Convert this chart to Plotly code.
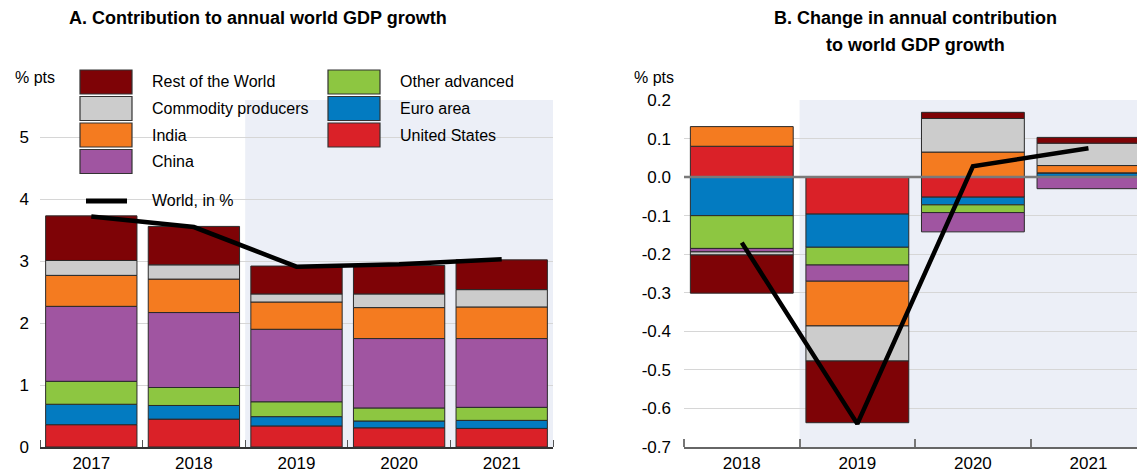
import plotly.graph_objects as go

# ---------------- data ----------------
years_a = ["2017", "2018", "2019", "2020", "2021"]
years_b = ["2018", "2019", "2020", "2021"]

series_names = ["United States", "Euro area", "Other advanced", "China",
                "India", "Commodity producers", "Rest of the World"]
series_colors = ["#DA2128", "#037BC1", "#8DC641", "#A055A1",
                 "#F47B20", "#CCCCCC", "#7E0306"]

# Panel A: contribution to annual world GDP growth (% pts)
us_a = [0.36, 0.45, 0.34, 0.31, 0.30]
euro_a = [0.33, 0.22, 0.15, 0.11, 0.13]
othadv_a = [0.37, 0.29, 0.24, 0.21, 0.21]
china_a = [1.21, 1.21, 1.17, 1.12, 1.11]
india_a = [0.50, 0.54, 0.44, 0.50, 0.51]
commod_a = [0.24, 0.23, 0.13, 0.22, 0.28]
row_a = [0.72, 0.62, 0.45, 0.46, 0.48]
world_a = [3.72, 3.55, 2.91, 2.95, 3.03]

# Panel B: change in annual contribution (% pts)
us_b = [0.080, -0.096, -0.052, 0.002]
euro_b = [-0.100, -0.086, -0.020, 0.009]
othadv_b = [-0.085, -0.046, -0.020, 0.0]
china_b = [-0.009, -0.042, -0.050, -0.030]
india_b = [0.051, -0.116, 0.065, 0.019]
commod_b = [-0.008, -0.091, 0.087, 0.058]
row_b = [-0.099, -0.160, 0.016, 0.015]
world_b = [-0.17, -0.64, 0.028, 0.075]

yticks_a = [0, 1, 2, 3, 4, 5]
yticks_b = [0.2, 0.1, 0.0, -0.1, -0.2, -0.3, -0.4, -0.5, -0.6, -0.7]
ytext_b = ["0.2", "0.1", "0.0", "-0.1", "-0.2", "-0.3", "-0.4", "-0.5", "-0.6", "-0.7"]

legend_col1 = ["Rest of the World", "Commodity producers", "India", "China"]
legend_col2 = ["Other advanced", "Euro area", "United States"]

# ---------------- figure ----------------
W, H = 1137, 473
FONT = "Liberation Sans, Arial, sans-serif"
SHADE = "#ECEFF7"
GRID = "#D6D6D6"
EDGE = "#2A2A2A"


def px(x):
    return x / W


def py(y):
    return 1 - y / H


series_a = [us_a, euro_a, othadv_a, china_a, india_a, commod_a, row_a]
series_b = [us_b, euro_b, othadv_b, china_b, india_b, commod_b, row_b]

xa = list(range(len(years_a)))
xb = list(range(len(years_b)))

fig = go.Figure()

for name, color, vals in zip(series_names, series_colors, series_a):
    fig.add_trace(go.Bar(x=xa, y=vals, name=name, marker_color=color,
                         marker_line=dict(color=EDGE, width=1), width=0.89,
                         xaxis="x", yaxis="y", showlegend=False))
fig.add_trace(go.Scatter(x=xa, y=world_a, mode="lines", name="World, in %",
                         line=dict(color="black", width=4.5),
                         xaxis="x", yaxis="y", showlegend=False))

for name, color, vals in zip(series_names, series_colors, series_b):
    fig.add_trace(go.Bar(x=xb, y=vals, name=name, marker_color=color,
                         marker_line=dict(color=EDGE, width=1), width=0.89,
                         xaxis="x2", yaxis="y2", showlegend=False))

xb_range = [-0.5, 3.42]
# zero reference line in panel B (above bars, below world line)
fig.add_trace(go.Scatter(x=xb_range, y=[0, 0], mode="lines",
                         line=dict(color="#7A7A7A", width=2.5),
                         xaxis="x2", yaxis="y2", showlegend=False,
                         hoverinfo="skip"))
fig.add_trace(go.Scatter(x=xb, y=world_b, mode="lines", name="World, in %",
                         line=dict(color="black", width=4.5),
                         xaxis="x2", yaxis="y2", showlegend=False))

ydom = [py(447), py(100)]

fig.update_layout(
    width=W, height=H,
    margin=dict(l=0, r=0, t=0, b=0, autoexpand=False),
    paper_bgcolor="white", plot_bgcolor="white",
    barmode="relative", bargap=0.11,
    font=dict(family=FONT, size=17, color="black"),
    xaxis=dict(domain=[px(40), px(553)], range=[-0.5, 4.5], automargin=False,
               tickmode="array", tickvals=xa, ticktext=years_a,
               ticks="", showgrid=False, zeroline=False,
               showline=True, linecolor="#333333", linewidth=1.5,
               tickfont=dict(size=17),
               minor=dict(tickmode="array",
                          tickvals=[-0.5, 0.5, 1.5, 2.5, 3.5, 4.5],
                          ticks="inside", ticklen=7, tickcolor="#555555",
                          tickwidth=1, showgrid=False),
               fixedrange=True),
    yaxis=dict(domain=ydom, range=[0, 5.6], anchor="x", automargin=False,
               tickmode="array", tickvals=yticks_a,
               showgrid=True, gridcolor=GRID, gridwidth=1,
               zeroline=False, showline=False, ticks="",
               ticklabelstandoff=10, tickfont=dict(size=17),
               fixedrange=True),
    xaxis2=dict(domain=[px(684), 1.0], range=xb_range, anchor="y2",
                automargin=False,
                tickmode="array", tickvals=xb, ticktext=years_b,
                ticks="", showgrid=False, zeroline=False,
                showline=True, linecolor="#666666", linewidth=1.5,
                tickfont=dict(size=17),
                minor=dict(tickmode="array",
                           tickvals=[-0.5, 0.5, 1.5, 2.5],
                           ticks="inside", ticklen=8, tickcolor="#777777",
                           tickwidth=1.5, showgrid=False),
                fixedrange=True),
    yaxis2=dict(domain=ydom, range=[-0.7, 0.2], anchor="x2", automargin=False,
                tickmode="array", tickvals=yticks_b, ticktext=ytext_b,
                showgrid=True, gridcolor=GRID, gridwidth=1,
                zeroline=False, showline=False, ticks="",
                ticklabelstandoff=12, tickfont=dict(size=17),
                fixedrange=True),
)

shapes = [
    dict(type="rect", xref="x", yref="y domain", x0=1.5, x1=4.5, y0=0, y1=1,
         fillcolor=SHADE, line=dict(width=0), layer="below"),
    dict(type="rect", xref="x2", yref="y2 domain", x0=0.5, x1=xb_range[1],
         y0=0, y1=1, fillcolor=SHADE, line=dict(width=0), layer="below"),
]

annotations = [
    dict(text="<b>A. Contribution to annual world GDP growth</b>",
         x=px(258), y=py(18), xref="paper", yref="paper",
         xanchor="center", yanchor="middle", showarrow=False,
         font=dict(size=18)),
    dict(text="<b>B. Change in annual contribution</b>",
         x=px(915), y=py(18), xref="paper", yref="paper",
         xanchor="center", yanchor="middle", showarrow=False,
         font=dict(size=18)),
    dict(text="<b>to world GDP growth</b>",
         x=px(915), y=py(45), xref="paper", yref="paper",
         xanchor="center", yanchor="middle", showarrow=False,
         font=dict(size=18)),
    dict(text="% pts", x=px(35), y=py(78), xref="paper", yref="paper",
         xanchor="center", yanchor="middle", showarrow=False,
         font=dict(size=16)),
    dict(text="% pts", x=px(654), y=py(78), xref="paper", yref="paper",
         xanchor="center", yanchor="middle", showarrow=False,
         font=dict(size=16)),
]

color_of = dict(zip(series_names, series_colors))
row_centers = [82, 108.5, 135, 161.5]
for col_names, bx0, tx in [(legend_col1, 80, 150), (legend_col2, 328, 398)]:
    for name, cy in zip(col_names, row_centers):
        shapes.append(dict(type="rect", xref="paper", yref="paper",
                           x0=px(bx0), x1=px(bx0 + 52),
                           y0=py(cy + 12), y1=py(cy - 12),
                           fillcolor=color_of[name],
                           line=dict(color="#333333", width=1.2)))
        annotations.append(dict(text=name, x=px(tx), y=py(cy),
                                xref="paper", yref="paper",
                                xanchor="left", yanchor="middle",
                                showarrow=False, font=dict(size=16)))

shapes.append(dict(type="line", xref="paper", yref="paper",
                   x0=px(86), x1=px(127), y0=py(201), y1=py(201),
                   line=dict(color="black", width=5)))
annotations.append(dict(text="World, in %", x=px(150), y=py(201),
                        xref="paper", yref="paper", xanchor="left",
                        yanchor="middle", showarrow=False,
                        font=dict(size=16)))

fig.update_layout(shapes=shapes, annotations=annotations)

fig.write_html("out.html")
